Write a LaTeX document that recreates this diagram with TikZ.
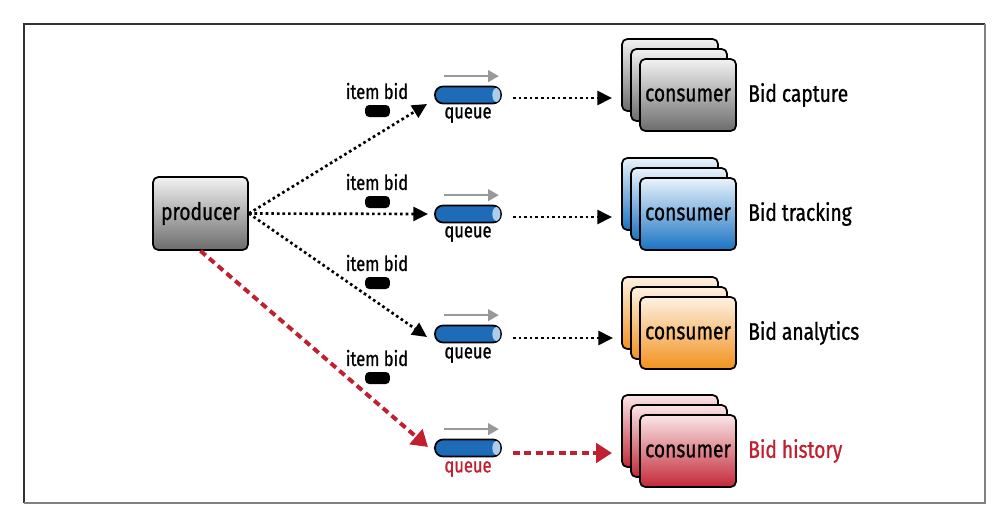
\documentclass[tikz,border=0pt]{standalone}
\usepackage{fontspec}
\setmainfont{Fira Sans}[FakeStretch=0.8, FakeBold=0.9]
\usetikzlibrary{arrows.meta,calc}
\definecolor{ored}{RGB}{192,32,48}
\definecolor{qblue}{RGB}{30,108,184}
\definecolor{qlight}{RGB}{172,206,236}
\definecolor{gtop}{RGB}{242,242,242}\definecolor{gbot}{RGB}{108,108,108}
\definecolor{btop}{RGB}{234,243,251}\definecolor{bbot}{RGB}{25,115,195}
\definecolor{otop}{RGB}{253,241,226}\definecolor{obot}{RGB}{242,146,30}
\definecolor{rtop}{RGB}{249,230,232}\definecolor{rbot}{RGB}{195,40,55}
\begin{document}
\begin{tikzpicture}[x=0.75pt,y=-0.75pt,
  big/.style={font=\fontsize{18}{20}\selectfont},
  small/.style={font=\fontsize{15.5}{17}\selectfont},
  card/.style={draw=black, line width=1.3pt, rounded corners=4pt, minimum width=72pt, minimum height=54pt, inner sep=0pt, big},
  gcard/.style={card, top color=gtop, bottom color=gbot},
  bcard/.style={card, top color=btop, bottom color=bbot},
  ocard/.style={card, top color=otop, bottom color=obot},
  rcard/.style={card, top color=rtop, bottom color=rbot},
  queuebox/.style={draw=black, line width=1.3pt, fill=qblue, rounded corners=6pt, minimum width=49.5pt, minimum height=12.75pt, inner sep=0pt},
  token/.style={fill=black, rounded corners=3pt, minimum width=18.5pt, minimum height=9pt, inner sep=0pt},
  flowarrow/.style={draw=black!40, line width=1.9pt, -{Triangle[length=8pt,width=8.5pt]}},
  dotline/.style={line width=2pt, dash pattern=on 2pt off 2.2pt, -{Triangle[length=11pt,width=10.5pt]}},
  redline/.style={draw=ored, line width=3pt, dash pattern=on 5.2pt off 3.4pt, -{Triangle[length=12pt,width=14.5pt,fill=ored]}},
  side/.style={big, anchor=west, inner sep=0pt}]
\useasboundingbox (0,0) rectangle (1002,518);
% frame
\draw[line width=1.5pt, black!80] (24,503) -- (24,24) -- (985,24);
\draw[line width=1.5pt, black!50] (985,24) -- (985,503) -- (24,503);
% producer
\node[gcard, minimum width=71.25pt, minimum height=54.75pt] (producer) at (200.5,213.5) {producer};
% consumer stacks
\foreach \r/\cy/\st in {1/95/gcard,2/214/bcard,3/333/ocard,4/451/rcard}{
  \node[\st] (back\r) at (670,\cy-20) {};
  \node[\st] (mid\r) at (679,\cy-10) {};
  \node[\st] (c\r) at (688,\cy) {consumer};
}
\node[side] (l1) at (748,95) {Bid capture};
\node[side] (l2) at (748,214) {Bid tracking};
\node[side] (l3) at (748,333) {Bid analytics};
\node[side, text=ored] (l4) at (748,451) {Bid history};
% queues
\foreach \r/\qy in {1/95,2/214,3/334,4/448}{
  \node[queuebox] (q\r) at (468,\qy) {};
  \fill[qlight] ($(q\r.east)+(-5.5,0)$) ellipse [x radius=3pt, y radius=5.2pt];
  \draw[flowarrow] ($(q\r.north west)+(10,-9.5)$) -- ($(q\r.north east)+(-3,-9.5)$);
}
\node[small] (ql1) at (468,115) {queue};
\node[small] (ql2) at (468,234) {queue};
\node[small] (ql3) at (468,355) {queue};
\node[small, text=ored] (ql4) at (468,469) {queue};
% item bid labels and tokens
\foreach \r/\ly in {1/91,2/182,3/263,4/358}{
  \node[small] (ib\r) at (377,\ly) {item bid};
  \node[token] (tk\r) at (377.5,\ly+20) {};
}
% arrow tips
\coordinate (t1) at (427,104);
\coordinate (t2) at (428,214);
\coordinate (t3) at (427,337);
\coordinate (t4) at (428,447);
\draw[dotline] (producer.east) -- (t1);
\draw[dotline] (producer.east) -- (t2);
\draw[dotline] (producer.east) -- (t3);
\draw[redline] (producer.south) -- (t4);
% queue to consumer
\coordinate (s1) at (513,98);  \coordinate (e1) at (612,98);
\coordinate (s2) at (513,217); \coordinate (e2) at (612,217);
\coordinate (s3) at (513,338); \coordinate (e3) at (613,338);
\coordinate (s4) at (513,453); \coordinate (e4) at (612,453);
\draw[dotline] (s1) -- (e1);
\draw[dotline] (s2) -- (e2);
\draw[dotline] (s3) -- (e3);
\draw[redline] (s4) -- (e4);
\end{tikzpicture}
\end{document}
